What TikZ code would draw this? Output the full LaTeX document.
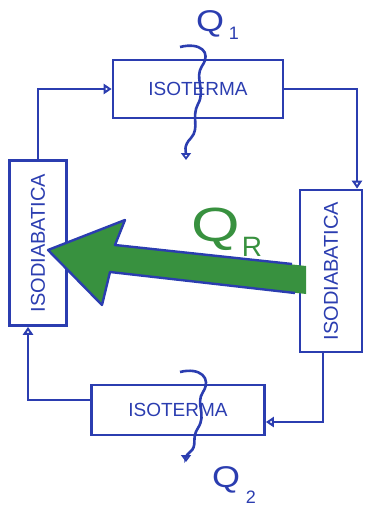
\documentclass[tikz,border=0pt]{standalone}
\usepackage{fontspec}
\setmainfont{Liberation Sans}
\usetikzlibrary{arrows.meta}
\definecolor{pen}{HTML}{2B3DB0}
\definecolor{gpen}{HTML}{38913F}
\tikzset{
  box/.style={draw=pen, line width=2.6pt, text=pen, inner sep=0pt, font=\fontsize{19}{21}\selectfont},
  conn/.style={draw=pen, line width=2.6pt, -{Triangle[open,length=8pt,width=10pt]}},
  wave/.style={draw=pen, line width=2.6pt, -{Triangle[open,length=7pt,width=10pt]}},
  lab/.style={text=pen, inner sep=0pt}
}
\begin{document}
\begin{tikzpicture}[x=1pt,y=-1pt]
\useasboundingbox (0,0) rectangle (382,508);
% boxes
\node[box, minimum width=170pt, minimum height=58pt] (iso1) at (198,89) {ISOTERMA};
\node[box, minimum width=173pt, minimum height=50pt] (iso2) at (178,410) {ISOTERMA};
\node[box, minimum width=57pt, minimum height=165pt] (adia1) at (38,243) {\rotatebox{90}{\fontsize{20}{22}\selectfont ISODIABATICA}};
\node[box, minimum width=62pt, minimum height=162pt] (adia2) at (331,271) {\rotatebox{90}{\fontsize{20}{22}\selectfont ISODIABATICA}};
% cycle connectors
\draw[conn] (adia1.north) |- (iso1.west);
\draw[conn] (iso1.east) -| ([xshift=26pt]adia2.north);
\draw[conn] ([xshift=-8pt]adia2.south) |- ([yshift=-12pt]iso2.east);
\draw[conn] ([yshift=10pt]iso2.west) -| ([xshift=-10pt]adia1.south);
% heat labels
\node[lab, font=\fontsize{30}{32}\selectfont, xscale=1.2] (q1) at (210,24) {Q};
\node[lab, font=\fontsize{18}{20}\selectfont] (q1i) at (234,33) {1};
\node[lab, font=\fontsize{30}{32}\selectfont, xscale=1.2] (q2) at (226,480) {Q};
\node[lab, font=\fontsize{18}{20}\selectfont] (q2i) at (251,497) {2};
% wavy heat arrows
\coordinate (w1s) at (180,47);
\coordinate (w1e) at (186,160);
\draw[wave] (w1s) .. controls (200,42) and (212,52) .. (202,66)
  .. controls (194,78) and (206,90) .. (198,104)
  .. controls (191,117) and (200,128) .. (191,138)
  .. controls (183,146) and (186,152) .. (w1e);
\coordinate (w2s) at (180,372);
\coordinate (w2e) at (186,462);
\draw[wave] (w2s) .. controls (200,367) and (212,378) .. (203,392)
  .. controls (195,404) and (207,414) .. (198,428)
  .. controls (191,438) and (198,446) .. (190,452)
  .. controls (185,456) and (186,459) .. (w2e);
% regenerative heat arrow
\fill[gpen] (306,266) -- (115,245) -- (125,220) -- (48,250) -- (102,305) -- (110,272) -- (306,294) -- cycle;
\draw[pen, line width=2.4pt, line join=round] (292,264) -- (115,245) -- (125,220) -- (48,250) -- (102,305) -- (110,272) -- (295,293);
\node[text=gpen, inner sep=0pt, font=\fontsize{48}{50}\selectfont, xscale=1.3] (qr) at (216,229) {Q};
\node[text=gpen, inner sep=0pt, font=\fontsize{28}{30}\selectfont] (qri) at (252,247) {R};
\end{tikzpicture}
\end{document}
